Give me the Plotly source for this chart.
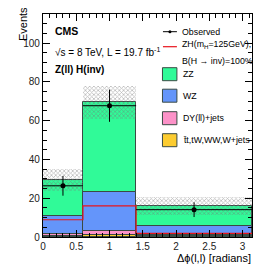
import numpy as np
import plotly.graph_objects as go

# ---- data ----
bin_edges = [0.0, 0.6, 1.4, np.pi]
ttbar = [0.3, 0.8, 0.6]          # tt, tW, WW, W+jets
dy = [1.4, 2.1, 0.6]             # DY(ll)+jets
wz = [8.9, 20.1, 4.3]            # WZ
zz = [18.9, 46.4, 10.6]          # ZZ
unc = [5.6, 8.4, 4.5]            # total bkg uncertainty (+/-)
signal = [8.9, 16.1, 1.9]        # ZH(125) B(H->inv)=100%
observed = [26.4, 67.7, 14.1]
obs_err = [5.1, 8.3, 3.8]

edges = np.array(bin_edges)
centers = (edges[:-1] + edges[1:]) / 2
widths = edges[1:] - edges[:-1]

c_tt = np.array(ttbar)
c_dy = c_tt + np.array(dy)
c_wz = c_dy + np.array(wz)
c_zz = c_wz + np.array(zz)

fig = go.Figure()
line_col = "#3a4a44"
for vals, col in [(c_zz, "#30fa98"), (c_wz, "#6495fa"), (c_dy, "#fc92c8"), (c_tt, "#fccc30")]:
    fig.add_trace(go.Bar(x=centers, y=vals, width=widths, marker=dict(color=col, line=dict(color=line_col, width=1)),
                         showlegend=False))

# uncertainty band (hatched)
fig.add_trace(go.Bar(x=centers, y=2 * np.array(unc), base=c_zz - np.array(unc), width=widths,
                     marker=dict(color="rgba(0,0,0,0)", line=dict(width=0),
                                 pattern=dict(shape="x", fgcolor="#777777", bgcolor="rgba(0,0,0,0)", size=3, solidity=0.45)),
                     showlegend=False))

# signal step line
fig.add_trace(go.Scatter(x=list(edges), y=signal + [signal[-1]], mode="lines", line=dict(color="#e8141c", width=1.2, shape="hv"),
                         showlegend=False))

# observed
fig.add_trace(go.Scatter(x=centers, y=observed, mode="markers",
                         marker=dict(color="black", size=5),
                         error_y=dict(type="data", array=obs_err, color="black", thickness=1, width=0),
                         error_x=dict(type="data", array=widths / 2, color="black", thickness=1, width=0),
                         showlegend=False))

# plot area geometry in pixels
X0, X1, YT, YB = 42.7, 252.3, 14.3, 237.3
def px(x):
    return (x - X0) / (X1 - X0)
def py(y):
    return (YB - y) / (YB - YT)

font = "Liberation Sans, Arial, Helvetica, sans-serif"
shapes = []
annots = []

# legend
# Observed
shapes.append(dict(type="line", xref="paper", yref="paper", x0=px(163), x1=px(177), y0=py(32), y1=py(32), line=dict(color="black", width=1)))
shapes.append(dict(type="circle", xref="paper", yref="paper", x0=px(168.5), x1=px(171.5), y0=py(30.5), y1=py(33.5), fillcolor="black", line=dict(color="black", width=0)))
annots.append(dict(x=px(180), y=py(32), text="Observed"))
# signal
shapes.append(dict(type="line", xref="paper", yref="paper", x0=px(163), x1=px(177), y0=py(47), y1=py(47), line=dict(color="#e8141c", width=1.2)))
annots.append(dict(x=px(180), y=py(45), text="ZH(m<sub>H</sub>=125GeV),"))
annots.append(dict(x=px(180), y=py(61), text="B(H \u2192 inv)=100%"))
boxes = [("ZZ", "#30fa98", 74.5), ("WZ", "#6495fa", 96), ("DY(ll)+jets", "#fc92c8", 118.5), ("t\u0304t,tW,WW,W+jets", "#fccc30", 140.5)]
for lab, col, yc in boxes:
    shapes.append(dict(type="rect", xref="paper", yref="paper", x0=px(162.5), x1=px(177), y0=py(yc + 6.5), y1=py(yc - 6.5),
                       fillcolor=col, line=dict(color=line_col, width=1)))
    annots.append(dict(x=px(181), y=py(yc), text=lab))

for a in annots:
    a.update(xref="paper", yref="paper", xanchor="left", yanchor="middle", showarrow=False,
             font=dict(family=font, size=8.8, color="black"))

# header texts
annots += [
    dict(x=px(53), y=py(31), text="<b>CMS</b>", font=dict(family=font, size=10.5, color="black")),
    dict(x=px(53), y=py(52), text="\u221as = 8 TeV, L = 19.7 fb<sup>-1</sup>", font=dict(family=font, size=10, color="black")),
    dict(x=px(53), y=py(70), text="<b>Z(ll) H(inv)</b>", font=dict(family=font, size=10, color="black")),
]
for a in annots[-3:]:
    a.update(xref="paper", yref="paper", xanchor="left", yanchor="middle", showarrow=False)

# axis titles
annots.append(dict(x=px(22), y=py(24), xref="paper", yref="paper", xanchor="center", yanchor="middle", textangle=-90,
                   text="Events", showarrow=False, font=dict(family=font, size=11, color="black")))
annots.append(dict(x=px(253), y=py(258), xref="paper", yref="paper", xanchor="right", yanchor="middle",
                   text="\u0394\u03d5(l,l) [radians]", showarrow=False, font=dict(family=font, size=11, color="black")))

fig.update_layout(
    width=266, height=266,
    margin=dict(l=43, r=14, t=14, b=29),
    barmode="overlay", bargap=0,
    plot_bgcolor="white", paper_bgcolor="white",
    showlegend=False,
    shapes=shapes, annotations=annots,
    font=dict(family=font, size=10, color="black"),
)
fig.update_xaxes(range=[0, np.pi], dtick=0.5, tick0=0, ticks="inside", ticklen=7, tickwidth=1, tickcolor="black",
                 mirror="allticks", showline=True, linecolor="black", linewidth=1.2, showgrid=False, zeroline=False,
                 minor=dict(dtick=0.1, ticks="inside", ticklen=4, tickcolor="black", showgrid=False),
                 tickfont=dict(family=font, size=10, color="#222"), ticklabelstandoff=0)
fig.update_yaxes(range=[0, 115], dtick=20, ticks="inside", ticklen=7, tickwidth=1, tickcolor="black",
                 mirror="allticks", showline=True, linecolor="black", linewidth=1.2, showgrid=False, zeroline=False,
                 minor=dict(dtick=5, ticks="inside", ticklen=4, tickcolor="black", showgrid=False),
                 tickfont=dict(family=font, size=10, color="#222"))

fig.write_html("out.html", config={"displayModeBar": False},
               post_script="document.body.style.margin='0';document.body.style.overflow='hidden';")
